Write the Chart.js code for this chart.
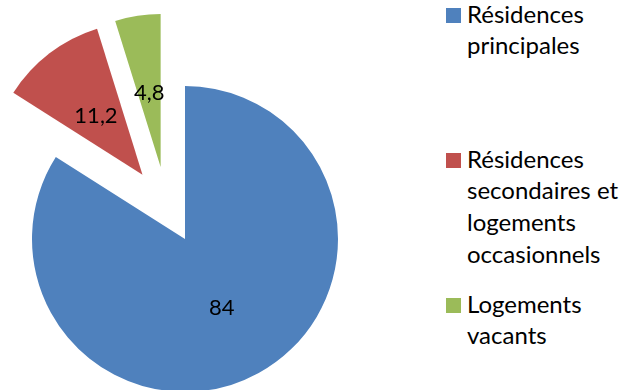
<!DOCTYPE html>
<html lang="fr">
<head>
<meta charset="utf-8">
<script src="https://cdn.jsdelivr.net/npm/chart.js@4/dist/chart.umd.min.js"></script>
<style>
  html, body { margin: 0; padding: 0; background: #ffffff; overflow: hidden; }
  body { width: 642px; height: 390px; position: relative; font-family: Lato, "Noto Sans", sans-serif; }
  #pie { position: absolute; left: 0; top: 0; }
  #legend { position: absolute; left: 446px; top: -2.4px; width: 196px; }
  .item { position: relative; height: 145px; padding-left: 21px; box-sizing: border-box; }
  .box { position: absolute; left: 0; top: 10.4px; width: 15px; height: 15px; }
  .txt { width: 172px; font-size: 24px; line-height: 31.7px; color: #000; }
</style>
</head>
<body>
<canvas id="pie" width="370" height="400"></canvas>
<div id="legend"></div>
<script>
// Répartition des logements (%)
const categories = [
  "Résidences principales",
  "Résidences secondaires et logements occasionnels",
  "Logements vacants"
];
const shares = [84, 11.2, 4.8];
const colors = ["#4F81BD", "#C0504D", "#9BBB59"];

// Detached slices: distance in px and direction in degrees (clockwise from 12 o'clock)
const explodeDistance = [0, 77, 76];
const explodeDirection = [0, -33.5, -18.7];

const explodePlugin = {
  id: 'explode',
  afterDatasetsUpdate(chart) {
    const meta = chart.getDatasetMeta(0);
    meta.data.forEach((arc, i) => {
      const a = explodeDirection[i] * Math.PI / 180;
      arc.x += explodeDistance[i] * Math.sin(a);
      arc.y -= explodeDistance[i] * Math.cos(a);
    });
  }
};

const valueLabels = {
  id: 'valueLabels',
  afterDatasetsDraw(chart) {
    const ctx = chart.ctx;
    const meta = chart.getDatasetMeta(0);
    ctx.save();
    ctx.font = '22px Lato, "Noto Sans", sans-serif';
    ctx.fillStyle = '#000000';
    ctx.textAlign = 'center';
    ctx.textBaseline = 'middle';
    meta.data.forEach((arc, i) => {
      const p = arc.tooltipPosition();
      ctx.fillText(String(shares[i]).replace('.', ','), p.x, p.y + 2);
    });
    ctx.restore();
  }
};

new Chart(document.getElementById('pie'), {
  type: 'pie',
  data: {
    labels: categories,
    datasets: [{
      data: shares,
      backgroundColor: colors,
      borderWidth: 0
    }]
  },
  options: {
    responsive: false,
    animation: false,
    events: [],
    layout: { padding: { left: 32, right: 32, top: 86, bottom: 8 } },
    plugins: { legend: { display: false }, tooltip: { enabled: false } }
  },
  plugins: [explodePlugin, valueLabels]
});

// Legend at the right
const legend = document.getElementById('legend');
categories.forEach((name, i) => {
  const item = document.createElement('div');
  item.className = 'item';
  const box = document.createElement('span');
  box.className = 'box';
  box.style.background = colors[i];
  const txt = document.createElement('div');
  txt.className = 'txt';
  txt.textContent = name;
  item.appendChild(box);
  item.appendChild(txt);
  legend.appendChild(item);
});
</script>
</body>
</html>
